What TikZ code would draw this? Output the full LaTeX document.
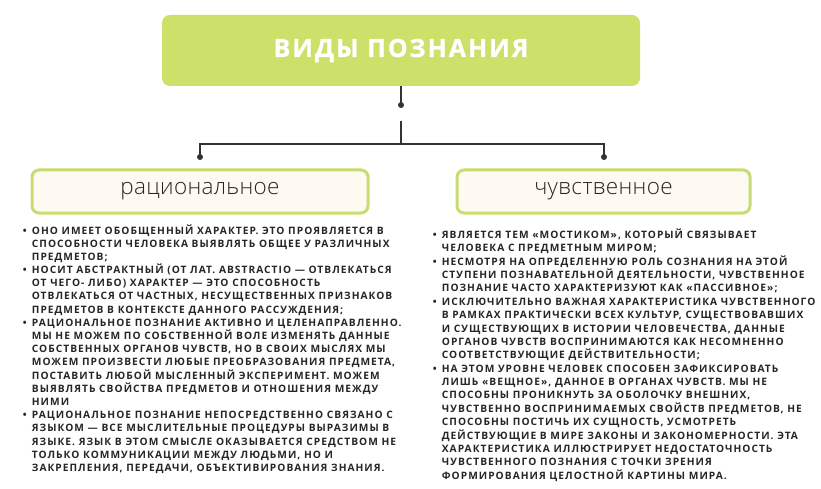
\documentclass[tikz,border=0pt]{standalone}
\usepackage{fontspec}
\setmainfont{Open Sans}
\newfontfamily\bodyfont[LetterSpace=10]{Open Sans}
\IfFontExistsTF{Open Sans ExtraBold}{\newfontfamily\titlefont[LetterSpace=5]{Open Sans ExtraBold}}{\newfontfamily\titlefont[LetterSpace=8,FakeBold=1]{Open Sans Bold}}
\IfFontExistsTF{Open Sans Light}{\newfontfamily\labelfont[LetterSpace=1.5]{Open Sans Light}}{\newfontfamily\labelfont[LetterSpace=1.5]{Open Sans}}
\definecolor{titlegreen}{HTML}{CCE06A}
\definecolor{boxgreen}{HTML}{C8DC72}
\definecolor{boxfill}{HTML}{FEF9F1}
\definecolor{txt}{HTML}{262626}
\definecolor{linec}{HTML}{333333}
\newcommand\mybul{\llap{\makebox[9pt][l]{•}}}
\tikzset{
  titlebox/.style={fill=titlegreen, rounded corners=8pt, inner sep=0pt,
    text=white, font=\titlefont\fontsize{25}{30}\selectfont},
  kindbox/.style={draw=boxgreen, line width=3pt, fill=boxfill, rounded corners=7pt,
    inner sep=0pt, minimum height=43pt, text=txt,
    font=\labelfont\fontsize{22.5}{27}\selectfont},
  listline/.style={anchor=base west, inner sep=0pt, text=txt,
    font=\bodyfont\bfseries\fontsize{10.2}{13}\selectfont},
  conn/.style={draw=linec, line width=1.4pt},
  dotmark/.style={fill=linec}
}
\begin{document}
\begin{tikzpicture}[x=1pt,y=-1pt]
\fill[white] (0,0) rectangle (821,489);
\path[use as bounding box] (0,0) rectangle (821,489);

\node[titlebox, minimum width=478pt, minimum height=71pt] (title) at (401,50.5) {ВИДЫ ПОЗНАНИЯ};
\node[kindbox, minimum width=336pt] (rat) at (200,191.5) {рациональное};
\node[kindbox, minimum width=293pt] (chu) at (603.5,191.5) {чувственное};

\coordinate (d0) at (401,105);
\coordinate (j) at (401,121);
\coordinate (h) at (401,144);
\coordinate (dl) at (200,157);
\coordinate (dr) at (604,157);
\draw[conn] (title.south) -- (d0);
\draw[conn] (j) -- (h) -| (dl);
\draw[conn] (h) -| (dr);
\fill[dotmark] (d0) circle (3pt);
\fill[dotmark] (dl) circle (3pt);
\fill[dotmark] (dr) circle (3pt);

\foreach \t [count=\i] in {
 {\mybul ОНО ИМЕЕТ ОБОБЩЕННЫЙ ХАРАКТЕР. ЭТО ПРОЯВЛЯЕТСЯ В},
 {СПОСОБНОСТИ ЧЕЛОВЕКА ВЫЯВЛЯТЬ ОБЩЕЕ У РАЗЛИЧНЫХ},
 {ПРЕДМЕТОВ;},
 {\mybul НОСИТ АБСТРАКТНЫЙ (ОТ ЛАТ. ABSTRACTIO — ОТВЛЕКАТЬСЯ},
 {ОТ ЧЕГО- ЛИБО) ХАРАКТЕР — ЭТО СПОСОБНОСТЬ},
 {ОТВЛЕКАТЬСЯ ОТ ЧАСТНЫХ, НЕСУЩЕСТВЕННЫХ ПРИЗНАКОВ},
 {ПРЕДМЕТОВ В КОНТЕКСТЕ ДАННОГО РАССУЖДЕНИЯ;},
 {\mybul РАЦИОНАЛЬНОЕ ПОЗНАНИЕ АКТИВНО И ЦЕЛЕНАПРАВЛЕННО.},
 {МЫ НЕ МОЖЕМ ПО СОБСТВЕННОЙ ВОЛЕ ИЗМЕНЯТЬ ДАННЫЕ},
 {СОБСТВЕННЫХ ОРГАНОВ ЧУВСТВ, НО В СВОИХ МЫСЛЯХ МЫ},
 {МОЖЕМ ПРОИЗВЕСТИ ЛЮБЫЕ ПРЕОБРАЗОВАНИЯ ПРЕДМЕТА,},
 {ПОСТАВИТЬ ЛЮБОЙ МЫСЛЕННЫЙ ЭКСПЕРИМЕНТ. МОЖЕМ},
 {ВЫЯВЛЯТЬ СВОЙСТВА ПРЕДМЕТОВ И ОТНОШЕНИЯ МЕЖДУ},
 {НИМИ},
 {\mybul РАЦИОНАЛЬНОЕ ПОЗНАНИЕ НЕПОСРЕДСТВЕННО СВЯЗАНО С},
 {ЯЗЫКОМ — ВСЕ МЫСЛИТЕЛЬНЫЕ ПРОЦЕДУРЫ ВЫРАЗИМЫ В},
 {ЯЗЫКЕ. ЯЗЫК В ЭТОМ СМЫСЛЕ ОКАЗЫВАЕТСЯ СРЕДСТВОМ НЕ},
 {ТОЛЬКО КОММУНИКАЦИИ МЕЖДУ ЛЮДЬМИ, НО И},
 {ЗАКРЕПЛЕНИЯ, ПЕРЕДАЧИ, ОБЪЕКТИВИРОВАНИЯ ЗНАНИЯ.}
}{
 \node[listline] (L\i) at (31.7,{234+13.19*(\i-1)}) {\t};
}

\foreach \t [count=\i] in {
 {\mybul ЯВЛЯЕТСЯ ТЕМ «МОСТИКОМ», КОТОРЫЙ СВЯЗЫВАЕТ},
 {ЧЕЛОВЕКА С ПРЕДМЕТНЫМ МИРОМ;},
 {\mybul НЕСМОТРЯ НА ОПРЕДЕЛЕННУЮ РОЛЬ СОЗНАНИЯ НА ЭТОЙ},
 {СТУПЕНИ ПОЗНАВАТЕЛЬНОЙ ДЕЯТЕЛЬНОСТИ, ЧУВСТВЕННОЕ},
 {ПОЗНАНИЕ ЧАСТО ХАРАКТЕРИЗУЮТ КАК «ПАССИВНОЕ»;},
 {\mybul ИСКЛЮЧИТЕЛЬНО ВАЖНАЯ ХАРАКТЕРИСТИКА ЧУВСТВЕННОГО},
 {В РАМКАХ ПРАКТИЧЕСКИ ВСЕХ КУЛЬТУР, СУЩЕСТВОВАВШИХ},
 {И СУЩЕСТВУЮЩИХ В ИСТОРИИ ЧЕЛОВЕЧЕСТВА, ДАННЫЕ},
 {ОРГАНОВ ЧУВСТВ ВОСПРИНИМАЮТСЯ КАК НЕСОМНЕННО},
 {СООТВЕТСТВУЮЩИЕ ДЕЙСТВИТЕЛЬНОСТИ;},
 {\mybul НА ЭТОМ УРОВНЕ ЧЕЛОВЕК СПОСОБЕН ЗАФИКСИРОВАТЬ},
 {ЛИШЬ «ВЕЩНОЕ», ДАННОЕ В ОРГАНАХ ЧУВСТВ. МЫ НЕ},
 {СПОСОБНЫ ПРОНИКНУТЬ ЗА ОБОЛОЧКУ ВНЕШНИХ,},
 {ЧУВСТВЕННО ВОСПРИНИМАЕМЫХ СВОЙСТВ ПРЕДМЕТОВ, НЕ},
 {СПОСОБНЫ ПОСТИЧЬ ИХ СУЩНОСТЬ, УСМОТРЕТЬ},
 {ДЕЙСТВУЮЩИЕ В МИРЕ ЗАКОНЫ И ЗАКОНОМЕРНОСТИ. ЭТА},
 {ХАРАКТЕРИСТИКА ИЛЛЮСТРИРУЕТ НЕДОСТАТОЧНОСТЬ},
 {ЧУВСТВЕННОГО ПОЗНАНИЯ С ТОЧКИ ЗРЕНИЯ},
 {ФОРМИРОВАНИЯ ЦЕЛОСТНОЙ КАРТИНЫ МИРА.}
}{
 \node[listline] (R\i) at (441.7,{238.3+13.39*(\i-1)}) {\t};
}
\end{tikzpicture}
\end{document}
